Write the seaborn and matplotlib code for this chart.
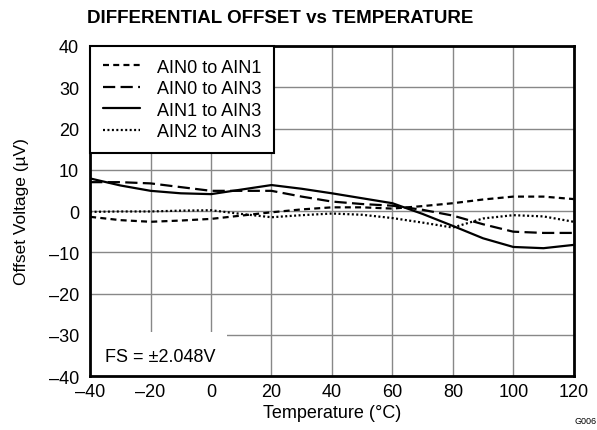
import numpy as np
import pandas as pd
import matplotlib
matplotlib.use('Agg')
import matplotlib.pyplot as plt
import seaborn as sns
from matplotlib.patches import Rectangle
from matplotlib.lines import Line2D

# Temperature points (deg C)
temp = [-40, -30, -20, -10, 0, 10, 20, 30, 40, 50, 60, 70, 80, 90, 100, 110, 120]

# Offset voltage (uV)
ain0_ain1 = [-1.4, -2.2, -2.6, -2.3, -1.9, -1.1, -0.3, 0.4, 0.9, 0.9, 0.6, 1.2, 1.9, 2.8, 3.5, 3.5, 2.9]
ain0_ain3 = [7.0, 7.0, 6.7, 5.8, 4.9, 4.9, 4.9, 3.5, 2.3, 1.7, 1.3, 0.3, -1.1, -3.2, -5.0, -5.3, -5.3]
ain1_ain3 = [7.9, 6.2, 4.9, 4.3, 4.1, 5.2, 6.3, 5.4, 4.3, 3.1, 1.9, -0.7, -3.6, -6.6, -8.7, -9.0, -8.2]
ain2_ain3 = [-0.2, -0.1, -0.1, 0.1, 0.2, -0.7, -1.5, -1.0, -0.6, -0.9, -1.7, -2.8, -4.0, -1.8, -1.0, -1.3, -2.6]

series_names = ['AIN0 to AIN1', 'AIN0 to AIN3', 'AIN1 to AIN3', 'AIN2 to AIN3']
series_vals = [ain0_ain1, ain0_ain3, ain1_ain3, ain2_ain3]

frames = []
for name, vals in zip(series_names, series_vals):
    frames.append(pd.DataFrame({'Temperature': temp, 'Offset': vals, 'Series': name}))
df = pd.concat(frames, ignore_index=True)

sns.set_style('white')
plt.rcParams['font.family'] = ['Liberation Sans', 'DejaVu Sans']
plt.rcParams['text.color'] = 'black'
plt.rcParams['axes.labelcolor'] = 'black'
plt.rcParams['xtick.color'] = 'black'
plt.rcParams['ytick.color'] = 'black'
fs = 13

fig = plt.figure(figsize=(5.97, 4.31), dpi=100)
ax = fig.add_axes([0.151, 0.125, 0.810, 0.766])

lw = 1.6
dashes = {
    'AIN0 to AIN1': (2.7, 1.9),
    'AIN0 to AIN3': (5.5, 2.4),
    'AIN1 to AIN3': '',
    'AIN2 to AIN3': (0.9, 1.1),
}
sns.lineplot(data=df, x='Temperature', y='Offset', style='Series',
             dashes=dashes, color='black', linewidth=lw, ax=ax,
             legend=False)

ax.set_xlim(-40, 120)
ax.set_ylim(-40, 40)
ax.set_xticks(range(-40, 121, 20))
ax.set_yticks(range(-40, 41, 10))
ax.set_xticklabels([str(v).replace('-', '\u2013') for v in range(-40, 121, 20)])
ax.set_yticklabels([str(v).replace('-', '\u2013') for v in range(-40, 41, 10)])
ax.tick_params(length=0, labelsize=fs)
ax.tick_params(axis='y', pad=8)
ax.tick_params(axis='x', pad=5)
ax.grid(True, color='#888888', linewidth=1.0)
ax.set_axisbelow(True)
for sp in ax.spines.values():
    sp.set_linewidth(2)
    sp.set_color('black')

ax.set_xlabel('Temperature (\u00b0C)', fontsize=fs, labelpad=3)
ax.set_ylabel('Offset Voltage (\u00b5V)', fontsize=12.5, labelpad=14)
fig.text(0.469, 0.956, 'DIFFERENTIAL OFFSET vs TEMPERATURE', ha='center',
         va='center', fontsize=13.5, fontweight='bold')

# legend
handles = []
for name in series_names:
    d = dashes[name]
    h = Line2D([0], [0], color='black', linewidth=lw)
    if d:
        h.set_dashes(d)
    handles.append(h)
leg = ax.legend(handles, series_names, loc='upper left', fontsize=fs,
                frameon=True, fancybox=False, borderaxespad=0,
                handlelength=2.05, handletextpad=0.95, labelspacing=0.25,
                borderpad=0.7)
leg.get_frame().set_edgecolor('black')
leg.get_frame().set_linewidth(1.5)
leg.get_frame().set_alpha(1)

# FS annotation box
ax.add_patch(Rectangle((-40, -40), 45.3, 10.7, facecolor='white',
                       edgecolor='none', zorder=1.5))
ax.text(-35, -35.2, 'FS = \u00b12.048V', fontsize=fs, va='center', zorder=3)

fig.text(0.999, 0.022, 'G006', fontsize=6.5, ha='right', va='center')

fig.savefig('out.png', dpi=100)
